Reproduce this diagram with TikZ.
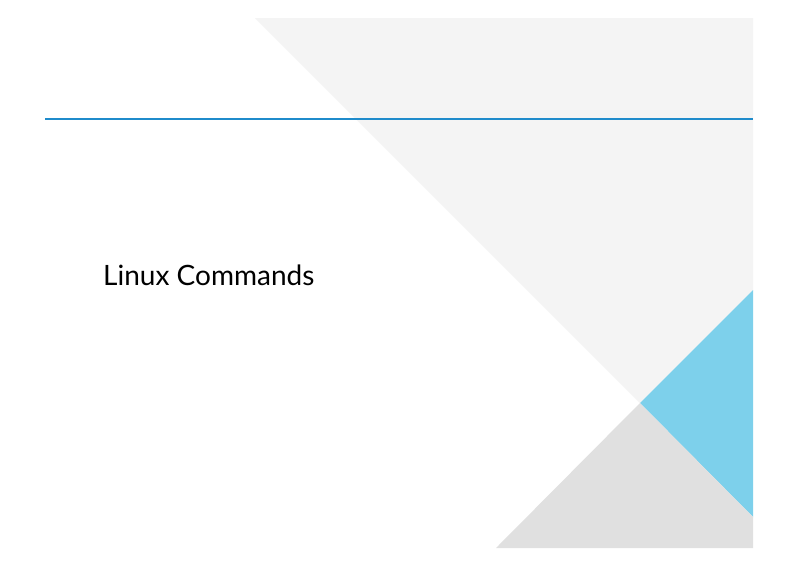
\documentclass[tikz,border=0pt]{standalone}
\usepackage{fontspec}
\setmainfont{Lato}
\definecolor{lightgray}{HTML}{F4F4F4}
\definecolor{midgray}{HTML}{E0E0E0}
\definecolor{skyblue}{HTML}{7DD0EB}
\definecolor{ruleblue}{HTML}{1F8BCB}
\begin{document}
\begin{tikzpicture}[x=1pt, y=-1pt]
    % 背景
    \useasboundingbox[fill=white] (0,0) rectangle (800,566);
    % 三角形を描画
    \fill[lightgray] (255,18) -- (753,18) -- (753,290) -- (640,403) -- cycle;
    \fill[skyblue] (753,290) -- (640,403) -- (753,517) -- cycle;
    \fill[midgray] (640,403) -- (753,517) -- (753,548) -- (496,548) -- cycle;
    % 線を描画
    \coordinate (L) at (45,119);
    \coordinate (R) at (753,119);
    \draw[ruleblue, line width=2.6pt] (L) -- (R);
    % タイトル
    \node[anchor=base west, inner sep=0pt, font=\fontsize{28}{32}\selectfont] (title) at (103,285) {Linux Commands};
\end{tikzpicture}
\end{document}
